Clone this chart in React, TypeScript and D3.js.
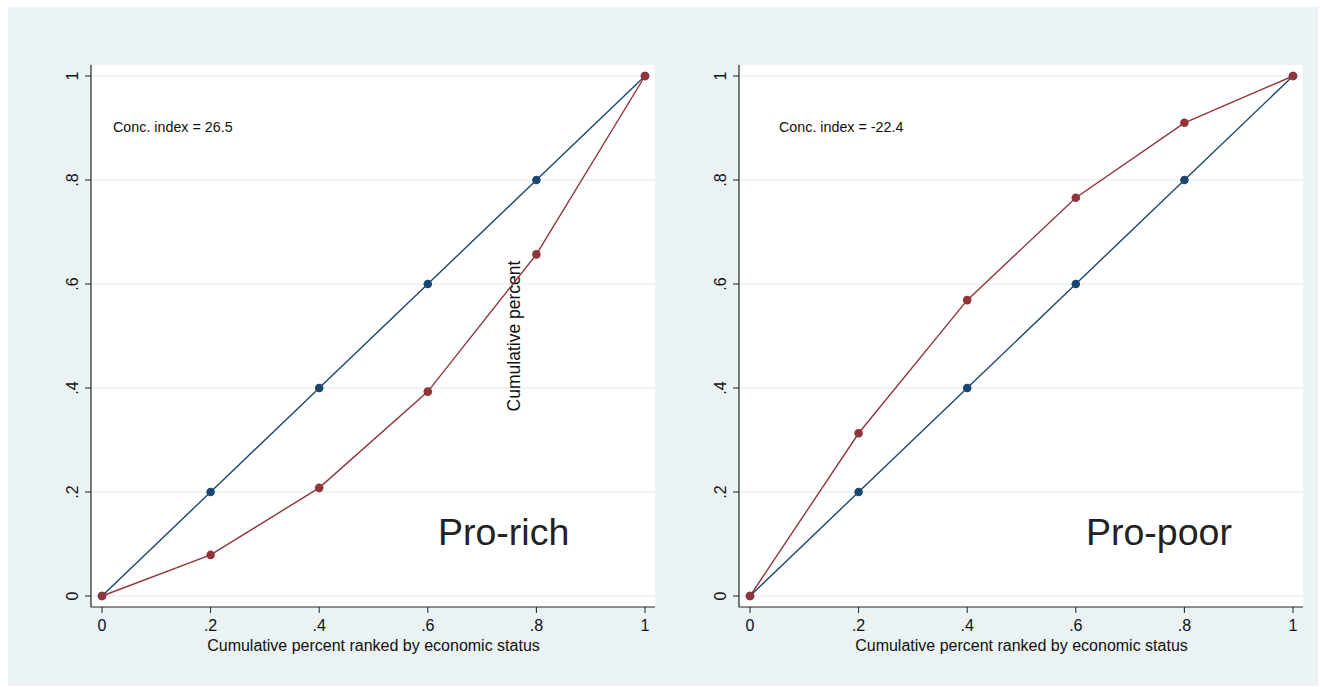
import React from 'react';
import * as d3 from 'd3';

// cumulative share of population (x) and of the outcome (y)
const popShare = [0, 0.2, 0.4, 0.6, 0.8, 1];
const equality = [0, 0.2, 0.4, 0.6, 0.8, 1];
const proRichCurve = [0, 0.079, 0.208, 0.393, 0.657, 1];
const proPoorCurve = [0, 0.313, 0.569, 0.766, 0.91, 1];
const tickValues = [0, 0.2, 0.4, 0.6, 0.8, 1];
const tickLabels = ['0', '.2', '.4', '.6', '.8', '1'];

const panels = [
  { left: 91, right: 655, curve: proRichCurve, index: 'Conc. index = 26.5', indexX: 113, label: 'Pro-rich', yTitle: true },
  { left: 739, right: 1303, curve: proPoorCurve, index: 'Conc. index = -22.4', indexX: 779, label: 'Pro-poor', yTitle: false },
];

const BLUE = '#1a476f';
const RED = '#90353b';
const GRID = '#eaf2f3';
const FONT = 'Liberation Sans, Arial, sans-serif';

function Panel({ p }: { p: typeof panels[number] }) {
  const top = 65;
  const bottom = 607;
  const x = d3.scaleLinear().domain([0, 1]).range([p.left + 11, p.right - 10]);
  const y = d3.scaleLinear().domain([0, 1]).range([596, 76]);
  const line = d3.line<number>().x((_, i) => x(popShare[i])).y((d) => y(d));
  const midX = (x(0) + x(1)) / 2;

  return (
    <g>
      <rect x={p.left} y={top} width={p.right - p.left} height={bottom - top} fill="#fff" />
      {tickValues.map((t) => (
        <line key={'g' + t} x1={p.left} x2={p.right} y1={y(t)} y2={y(t)} stroke={GRID} strokeWidth={1.5} />
      ))}
      <line x1={p.left} x2={p.left} y1={top} y2={bottom} stroke="#222" strokeWidth={1.2} />
      <line x1={p.left} x2={p.right} y1={bottom} y2={bottom} stroke="#222" strokeWidth={1.2} />
      {tickValues.map((t, i) => (
        <g key={'y' + t}>
          <line x1={p.left - 6} x2={p.left} y1={y(t)} y2={y(t)} stroke="#222" strokeWidth={1} />
          <text
            transform={`translate(${p.left - 13},${y(t)}) rotate(-90)`}
            textAnchor="middle"
            fontSize={16}
            fontFamily={FONT}
            fill="#111"
          >
            {tickLabels[i]}
          </text>
        </g>
      ))}
      {tickValues.map((t, i) => (
        <g key={'x' + t}>
          <line x1={x(t)} x2={x(t)} y1={bottom} y2={bottom + 6} stroke="#222" strokeWidth={1} />
          <text x={x(t)} y={bottom + 24} textAnchor="middle" fontSize={16} fontFamily={FONT} fill="#111">
            {tickLabels[i]}
          </text>
        </g>
      ))}
      <text x={midX} y={bottom + 44} textAnchor="middle" fontSize={16} fontFamily={FONT} fill="#111">
        Cumulative percent ranked by economic status
      </text>
      {p.yTitle && (
        <text
          transform={`translate(520,336) rotate(-90)`}
          textAnchor="middle"
          fontSize={17.5}
          fontFamily={FONT}
          fill="#111"
        >
          Cumulative percent
        </text>
      )}
      <path d={line(equality) || ''} fill="none" stroke={BLUE} strokeWidth={1.4} />
      {equality.map((d, i) => (
        <circle key={'b' + i} cx={x(popShare[i])} cy={y(d)} r={4.3} fill={BLUE} />
      ))}
      <path d={line(p.curve) || ''} fill="none" stroke={RED} strokeWidth={1.4} />
      {p.curve.map((d, i) => (
        <circle key={'r' + i} cx={x(popShare[i])} cy={y(d)} r={4.3} fill={RED} />
      ))}
      <text x={p.indexX} y={132} fontSize={14.3} fontFamily={FONT} fill="#111">
        {p.index}
      </text>
      <text x={p.left + 347} y={545} fontSize={37.5} fontFamily={FONT} fill="#222">
        {p.label}
      </text>
    </g>
  );
}

export default function App() {
  return (
    <svg width={1320} height={687} style={{ position: 'absolute', left: 0, top: 0 }}>
      <rect x={0} y={0} width={1320} height={687} fill="#fff" />
      <rect x={8} y={7} width={1310} height={679} fill={GRID} />
      {panels.map((p) => (
        <Panel key={p.label} p={p} />
      ))}
    </svg>
  );
}
